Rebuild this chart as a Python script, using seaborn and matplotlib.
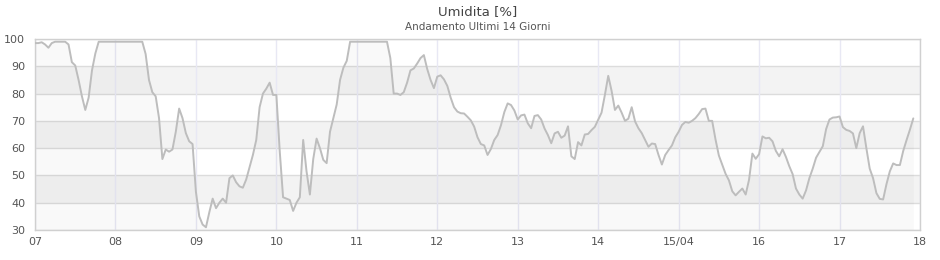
import numpy as np
import pandas as pd
import matplotlib
matplotlib.use("Agg")
import matplotlib.pyplot as plt
import seaborn as sns

# Hourly humidity readings (%), starting 07/04 00:00
apr07 = [98.5, 98.5, 98.8, 98.0, 96.8, 98.5, 99, 99, 99, 99, 98.0, 91.5,
         90.3, 85.0, 79.0, 74.0, 78.5, 88.5, 94.7, 99, 99, 99, 99, 99]
apr08 = [99, 99, 99, 99, 99, 99, 99, 99, 99, 94.5, 85.0, 80.5,
         79.0, 71.0, 56.0, 59.5, 58.7, 59.5, 66.0, 74.5, 71.0, 65.5, 62.5, 61.5]
apr09 = [44.0, 35.0, 32.0, 31.0, 36.5, 41.5, 38.0, 40.0, 41.5, 40.0, 49.0, 50.0,
         47.5, 46.0, 45.5, 48.5, 53.0, 57.5, 63.0, 75.0, 80.0, 81.8, 84.0, 79.5]
apr10 = [79.5, 59.0, 42.0, 41.5, 41.0, 37.0, 40.0, 42.0, 63.0, 51.5, 43.0, 56.0,
         63.5, 60.0, 55.7, 54.5, 66.0, 71.0, 76.0, 85.0, 89.5, 92.0, 99, 99]
apr11 = [99, 99, 99, 99, 99, 99, 99, 99, 99, 99, 93.0, 80.0,
         80.0, 79.5, 80.5, 84.0, 88.5, 89.2, 91.0, 93.0, 94.1, 89.0, 85.0, 82.0]
apr12 = [86.2, 86.7, 85.2, 82.8, 78.5, 75.0, 73.4, 72.8, 72.7, 71.5, 70.2, 67.9,
         64.0, 61.5, 61.0, 57.5, 59.7, 63.0, 64.8, 68.4, 73.2, 76.4, 75.8, 73.8]
apr13 = [70.5, 72.0, 72.3, 69.1, 67.3, 71.8, 72.1, 70.5, 67.2, 64.8, 61.8, 65.4,
         66.0, 63.8, 64.6, 68.0, 57.0, 56.0, 62.2, 61.0, 65.0, 65.2, 66.6, 67.8]
apr14 = [70.4, 73.0, 79.5, 86.5, 81.0, 74.0, 75.6, 73.0, 70.0, 70.8, 75.0, 69.8,
         67.3, 65.5, 63.0, 60.5, 61.7, 61.5, 57.5, 54.0, 57.5, 59.3, 61.0, 64.0]
apr15 = [66.0, 68.5, 69.6, 69.3, 70.0, 71.0, 72.5, 74.3, 74.5, 70.0, 70.0, 63.2,
         57.3, 54.0, 50.6, 48.2, 44.2, 42.7, 44.0, 45.2, 43.0, 48.4, 58.0, 56.1]
apr16 = [57.8, 64.3, 63.6, 63.8, 62.5, 59.0, 57.0, 59.6, 56.8, 53.4, 50.5, 45.2,
         43.0, 41.5, 44.5, 49.0, 52.5, 56.5, 58.6, 60.7, 67.0, 70.5, 71.2, 71.3]
apr17 = [71.6, 67.7, 66.7, 66.3, 65.4, 60.0, 65.5, 68.0, 60.0, 52.5, 49.0, 43.5,
         41.4, 41.2, 46.8, 51.5, 54.4, 53.8, 53.8, 59.0, 63.0, 66.8, 70.9]

day_labels = ["07", "08", "09", "10", "11", "12", "13", "14", "15/04", "16", "17", "18"]
y_ticks = [30, 40, 50, 60, 70, 80, 90, 100]

values = apr07 + apr08 + apr09 + apr10 + apr11 + apr12 + apr13 + apr14 + apr15 + apr16 + apr17
df = pd.DataFrame({"day": np.arange(len(values)) / 24.0, "umidita": values})

sns.set_theme(style="white")
plt.rcParams['font.family'] = ['DejaVu Sans']

fig = plt.figure(figsize=(9.4, 2.6), dpi=100)
ax = fig.add_axes([35 / 940, 1 - 230 / 260, 885 / 940, 191 / 260])
ax.set_facecolor("white")

# alternating horizontal bands
for lo in (40, 60, 80):
    ax.axhspan(lo, lo + 10, color="#f3f3f3", lw=0, zorder=0)
for yv in y_ticks:
    ax.axhline(yv, color="#dcdcdc", lw=1.0, zorder=1)
for d in range(len(day_labels)):
    ax.axvline(d, color="#e8e8f4", lw=1.0, zorder=1)

ax.fill_between(df["day"], df["umidita"], 30, color="black", alpha=0.025, lw=0, zorder=2)
sns.lineplot(data=df, x="day", y="umidita", ax=ax, color="#bdbdbd", lw=1.4, zorder=3)

ax.set_xlim(0, len(day_labels) - 1)
ax.set_ylim(30, 100)
ax.set_xticks(range(len(day_labels)))
ax.set_xticklabels(day_labels)
ax.set_yticks(y_ticks)
ax.set_xlabel("")
ax.set_ylabel("")
ax.tick_params(axis="both", length=0, labelsize=8, colors="#555555")
ax.tick_params(axis="x", pad=5)
ax.tick_params(axis="y", pad=7)
for s in ax.spines.values():
    s.set_color("#d0d0d0")
    s.set_linewidth(1.0)

ax.text(0.5, 1 + 27 / 191, "Umidita [%]", transform=ax.transAxes, ha="center",
        va="center", fontsize=9.5, color="#444444")
ax.text(0.5, 1 + 12 / 191, "Andamento Ultimi 14 Giorni", transform=ax.transAxes,
        ha="center", va="center", fontsize=7.5, color="#555555")

fig.savefig("out.png", dpi=100)
